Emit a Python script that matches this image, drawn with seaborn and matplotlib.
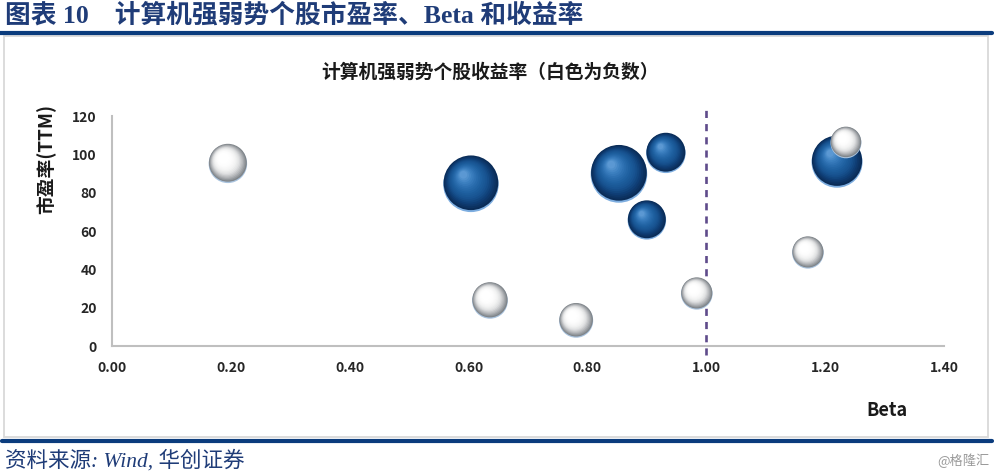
import numpy as np
import pandas as pd
import matplotlib
matplotlib.use("Agg")
import matplotlib.pyplot as plt
import seaborn as sns
from matplotlib.path import Path
from matplotlib.markers import MarkerStyle
from matplotlib.colors import LinearSegmentedColormap
from matplotlib.patches import Rectangle
from matplotlib.lines import Line2D

# ---------------- data ----------------
beta = [0.195, 0.604, 0.636, 0.781, 0.853, 0.932, 0.900, 0.984, 1.171, 1.220, 1.235]
pe_ttm = [95.5, 85.0, 24.0, 13.6, 90.2, 101.0, 66.0, 27.6, 49.0, 96.5, 106.4]
returns = [-37, 77, -32, -29, 80, 39, 37, -25, -25, 65, -24]   # % (white = negative)
x_ticks = [0.0, 0.2, 0.4, 0.6, 0.8, 1.0, 1.2, 1.4]
x_tick_labels = ["0.00", "0.20", "0.40", "0.60", "0.80", "1.00", "1.20", "1.40"]
y_ticks = [0, 20, 40, 60, 80, 100, 120]
y_tick_labels = ["0", "20", "40", "60", "80", "100", "120"]
beta_ref = 1.0

main_title = "图表 10    计算机强弱势个股市盈率、Beta 和收益率"
chart_title = "计算机强弱势个股收益率（白色为负数）"
y_label = "市盈率(TTM)"
x_label = "Beta"
source = "资料来源: Wind, 华创证券"
watermark = "@格隆汇"

df = pd.DataFrame({"beta": beta, "pe": pe_ttm, "ret": returns})
df["mag"] = df["ret"].abs()
df["sign"] = np.where(df["ret"] >= 0, "pos", "neg")

# ---------------- style ----------------
sns.set_theme(style="white")
CJK = ["Noto Sans CJK SC", "DejaVu Sans"]
SERIF_CJK = ["Liberation Serif", "Noto Sans CJK SC"]
plt.rcParams["font.family"] = CJK
plt.rcParams["axes.unicode_minus"] = False

NAVY = "#0B3C7D"
fig = plt.figure(figsize=(10, 4.74), dpi=100)
ax = fig.add_axes([0.112, 0.270, 0.832, 0.4852])

# ---------------- shaded bubbles ----------------
SIZE_NORM = (0, 80)
SMAX = 1659.0   # area (pt^2) for magnitude 80


def draw_balls(sub, stops, rim_color, zbase, n=18):
    cmap = LinearSegmentedColormap.from_list("ball", stops)
    layers = [(1.0, 0.0, -0.045, rim_color)]
    for i in range(n):
        t = i / (n - 1)
        a = 0.985 * (1 - 0.86 * t)
        ox = -0.27 * t
        oy = 0.30 * t + 0.012 * (1 - t)
        layers.append((a, ox, oy, cmap(t)))
    for j, (a, ox, oy, col) in enumerate(layers):
        k = max(abs(ox), abs(oy)) + a
        mk = MarkerStyle(Path.circle((ox, oy), a))
        sns.scatterplot(data=sub, x="beta", y="pe", size="mag",
                        sizes=(0, SMAX * k * k), size_norm=SIZE_NORM,
                        marker=mk, color=col, linewidth=0, edgecolor="none",
                        legend=False, ax=ax, zorder=zbase + j, clip_on=False)


blue_stops = ["#0A2C57", "#0F3D74", "#17528F", "#1D5E9E", "#2A6DAE", "#3C80C0", "#5B98D3"]
white_stops = ["#80858A", "#B4B7BA", "#E0E1E2", "#F4F4F4", "#FCFCFC", "#FFFFFF", "#FFFFFF"]
draw_balls(df[df["sign"] == "pos"], blue_stops, "#7EAEE0", 10)
draw_balls(df[df["sign"] == "neg"], white_stops, "#A9C3DE", 60)

# reference line at Beta = 1
ax.axvline(beta_ref, ymin=-0.04, ymax=1.04, color="#5F4B8B", lw=1.9,
           linestyle=(0, (2.7, 2.3)), clip_on=False, zorder=40)

# ---------------- axes ----------------
ax.set_xlim(0, 1.4)
ax.set_ylim(0, 120)
ax.set_xticks(x_ticks)
ax.set_xticklabels(x_tick_labels)
ax.set_yticks(y_ticks)
ax.set_yticklabels(y_tick_labels)
ax.tick_params(axis="both", length=0, labelsize=10, labelcolor="#262626")
ax.tick_params(axis="x", pad=11)
ax.tick_params(axis="y", pad=11)
for lab in ax.get_xticklabels() + ax.get_yticklabels():
    lab.set_fontweight("bold")
for s in ["top", "right"]:
    ax.spines[s].set_visible(False)
for s in ["left", "bottom"]:
    ax.spines[s].set_color("#BFBFBF")
    ax.spines[s].set_linewidth(1.5)
ax.set_xlabel("")
ax.set_ylabel("")
ax.grid(False)
ax.set_facecolor("none")

# ---------------- figure decorations ----------------
fig.text(0.005, 0.968, main_title, family=SERIF_CJK, fontsize=18.5,
         fontweight="bold", color="#1F3C78", ha="left", va="center")
fig.add_artist(Line2D([0.0, 0.992], [0.9304, 0.9304], color=NAVY, lw=3.0,
                      transform=fig.transFigure))
fig.add_artist(Rectangle((0.004, 0.0781), 0.984, 0.845, transform=fig.transFigure,
                         fill=False, edgecolor="#D9D9D9", lw=1.3))
fig.add_artist(Line2D([0.002, 0.992], [0.0696, 0.0696], color=NAVY, lw=3.0,
                      transform=fig.transFigure))

fig.text(0.49, 0.848, chart_title, fontsize=13.5, fontweight="bold",
         color="#1A1A1A", ha="center", va="center")
fig.text(0.046, 0.665, y_label, fontsize=13.5, fontweight="bold",
         color="#1A1A1A", ha="center", va="center", rotation=90)
fig.text(0.887, 0.133, x_label, fontsize=13, fontweight="bold",
         color="#1A1A1A", ha="center", va="center")

fig.text(0.005, 0.029, source, family=SERIF_CJK, fontsize=15.5, style="italic",
         color="#1F3C78", ha="left", va="center")
fig.text(0.990, 0.029, watermark, fontsize=9.5, color="#9A9A9A",
         ha="right", va="center")

fig.savefig("out.png", dpi=100)
